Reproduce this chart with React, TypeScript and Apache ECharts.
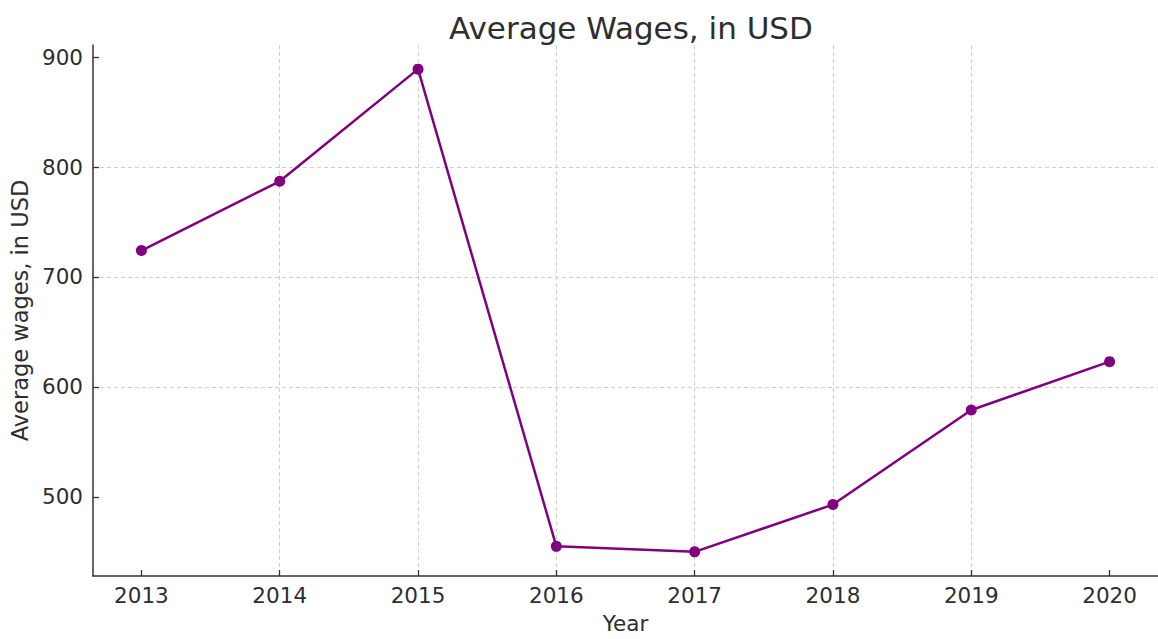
import React, { useEffect, useRef } from "react";
import * as echarts from "echarts";

const YEARS = [2013, 2014, 2015, 2016, 2017, 2018, 2019, 2020];
const WAGES = [724, 787, 889, 455, 450, 493, 579, 623];
const Y_TICKS = [500, 600, 700, 800, 900];
const TITLE = "Average Wages, in USD";
const X_NAME = "Year";
const Y_NAME = "Average wages, in USD";

const FONT = "DejaVu Sans";
const TEXT = "#2e2e2e";

export default function App() {
  const ref = useRef<HTMLDivElement>(null);
  useEffect(() => {
    if (!ref.current) return;
    const chart = echarts.init(ref.current, null, { renderer: "svg" });
    const xPad = (YEARS[YEARS.length - 1] - YEARS[0]) * 0.05;
    const yMin = Math.min(...WAGES);
    const yMax = Math.max(...WAGES);
    const yPad = (yMax - yMin) * 0.05;
    chart.setOption({
      animation: false,
      backgroundColor: "#ffffff",
      textStyle: { fontFamily: FONT },
      title: {
        text: TITLE,
        left: 626,
        textAlign: "center",
        top: 7,
        textStyle: { fontFamily: FONT, fontSize: 31, fontWeight: "normal", color: TEXT },
      },
      grid: { left: 93, top: 45, right: 0, bottom: 63, containLabel: false },
      xAxis: {
        type: "value",
        min: YEARS[0] - xPad,
        max: YEARS[YEARS.length - 1] + xPad,
        splitNumber: 8,
        name: X_NAME,
        nameLocation: "middle",
        nameGap: 36,
        nameTextStyle: { fontFamily: FONT, fontSize: 21.5, color: TEXT },
        axisLine: { show: true, onZero: false, lineStyle: { color: "#333333", width: 1.5 } },
        axisTick: { show: true, inside: true, length: 6, customValues: YEARS, lineStyle: { color: "#333333", width: 1.3 } },
        axisLabel: { customValues: YEARS, margin: 8, fontFamily: FONT, fontSize: 21.5, color: TEXT, formatter: (v: number) => String(v) },
        splitLine: { show: true, showMinLine: false, showMaxLine: false, lineStyle: { color: "#cfcfcf", width: 1, type: [4, 3] } },
      },
      yAxis: {
        type: "value",
        min: yMin - yPad,
        max: yMax + yPad,
        splitNumber: 5,
        name: Y_NAME,
        nameLocation: "middle",
        nameGap: 62,
        nameTextStyle: { fontFamily: FONT, fontSize: 22.5, color: TEXT },
        axisLine: { show: true, onZero: false, lineStyle: { color: "#333333", width: 1.5 } },
        axisTick: { show: true, inside: true, length: 6, customValues: Y_TICKS, lineStyle: { color: "#333333", width: 1.3 } },
        axisLabel: { customValues: Y_TICKS, margin: 10, fontFamily: FONT, fontSize: 21.5, color: TEXT },
        splitLine: { show: true, showMinLine: false, showMaxLine: false, lineStyle: { color: "#cfcfcf", width: 1, type: [4, 3] } },
      },
      series: [
        {
          type: "line",
          data: YEARS.map((y, i) => [y, WAGES[i]]),
          symbol: "circle",
          symbolSize: 11,
          lineStyle: { color: "#800080", width: 2.5 },
          itemStyle: { color: "#800080" },
        },
      ],
    });
    return () => chart.dispose();
  }, []);
  return (
    <div
      ref={ref}
      style={{ position: "fixed", left: 0, top: 0, width: 1158, height: 639, background: "#fff" }}
    />
  );
}
